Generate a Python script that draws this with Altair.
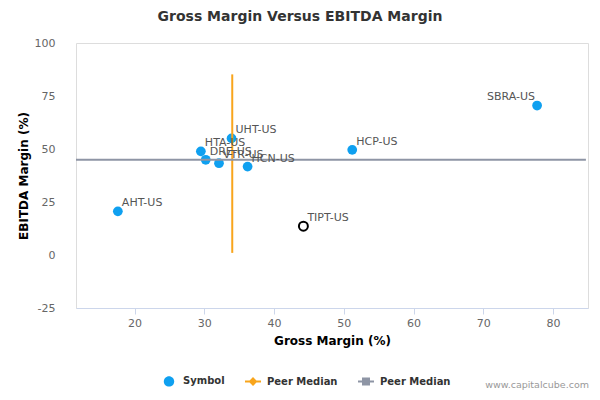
import altair as alt
import pandas as pd

# ---- data ----
symbols = ["AHT-US", "HTA-US", "DRE-US", "VTR-US", "UHT-US", "HCN-US", "HCP-US", "SBRA-US", "TIPT-US"]
gross_margin = [17.6, 29.5, 30.2, 32.1, 33.9, 36.2, 51.2, 77.7, 44.2]
ebitda_margin = [20.6, 48.9, 44.9, 43.3, 55.0, 41.7, 49.6, 70.5, 13.6]
subject = "TIPT-US"

peer_median_gross = 34.0
peer_median_ebitda = 44.9
vline_ebitda_range = [1.0, 85.2]
hline_gross_range = [11.6, 84.7]

x_ticks = [20, 30, 40, 50, 60, 70, 80]
y_ticks = [-25, 0, 25, 50, 75, 100]
x_domain = [11.6, 85.0]
y_domain = [-25, 100]

legend_items = ["Symbol", "Peer Median A", "Peer Median B"]
chart_title = "Gross Margin Versus EBITDA Margin"
watermark_text = "www.capitalcube.com"

FONT = "DejaVu Sans"
BLUE = "#0fa0f0"
ORANGE = "#f8a51c"
GRAY = "#8e95a5"

df = pd.DataFrame({"symbol": symbols, "gross": gross_margin, "ebitda": ebitda_margin})

xs = alt.Scale(domain=x_domain, nice=False, zero=False)
ys = alt.Scale(domain=y_domain, nice=False, zero=False)

x_axis = alt.Axis(values=x_ticks, grid=False, domainColor="#ccd6eb", tickColor="#ccd6eb",
                  tickSize=6, labelPadding=3, labelColor="#666666", labelFontSize=11,
                  labelFont=FONT, title="Gross Margin (%)", titleFont=FONT, titleFontSize=12,
                  titleFontWeight="bold", titleColor="#000000", titlePadding=7)
y_axis = alt.Axis(values=y_ticks, grid=False, domain=False, ticks=False, labelPadding=21,
                  labelExpr="'' + datum.value",
                  labelColor="#666666", labelFontSize=11, labelFont=FONT,
                  title="EBITDA Margin (%)", titleFont=FONT, titleFontSize=12,
                  titleFontWeight="bold", titleColor="#000000", titlePadding=4)

base = alt.Chart(df)

peers = base.transform_filter(f"datum.symbol != '{subject}'").mark_circle(
    size=95, color=BLUE, opacity=1
).encode(
    x=alt.X("gross:Q", scale=xs, axis=x_axis),
    y=alt.Y("ebitda:Q", scale=ys, axis=y_axis),
)

subj = base.transform_filter(f"datum.symbol == '{subject}'").mark_point(
    shape="circle", size=80, filled=False, stroke="#000000", strokeWidth=2, opacity=1
).encode(x="gross:Q", y="ebitda:Q")

labels_left = base.transform_filter("datum.symbol != 'SBRA-US'").mark_text(
    align="left", baseline="alphabetic", dx=4, dy=-5, font=FONT, fontSize=11, color="#555555"
).encode(x="gross:Q", y="ebitda:Q", text="symbol:N")

labels_right = base.transform_filter("datum.symbol == 'SBRA-US'").mark_text(
    align="right", baseline="alphabetic", dx=-2, dy=-6, font=FONT, fontSize=11, color="#555555"
).encode(x="gross:Q", y="ebitda:Q", text="symbol:N")

vline = alt.Chart(pd.DataFrame({"g": [peer_median_gross], "y1": [vline_ebitda_range[0]],
                                "y2": [vline_ebitda_range[1]]})).mark_rule(
    color=ORANGE, strokeWidth=2).encode(x="g:Q", y="y1:Q", y2="y2:Q")

hline = alt.Chart(pd.DataFrame({"e": [peer_median_ebitda], "x1": [hline_gross_range[0]],
                                "x2": [hline_gross_range[1]]})).mark_rule(
    color=GRAY, strokeWidth=2).encode(y="e:Q", x="x1:Q", x2="x2:Q")

circle_path = "M-0.65,0A0.65,0.65,0,1,1,0.65,0A0.65,0.65,0,1,1,-0.65,0Z"
diamond_line = "M-1,-0.125L1,-0.125L1,0.125L-1,0.125ZM0,-0.55L0.55,0L0,0.55L-0.55,0Z"
square_line = "M-1,-0.125L1,-0.125L1,0.125L-1,0.125ZM-0.5,-0.5L0.5,-0.5L0.5,0.5L-0.5,0.5Z"

legend_cfg = dict(title=None, orient="none", legendX=85, legendY=330,
                  direction="horizontal", symbolSize=256, symbolStrokeWidth=0,
                  labelExpr="substring(datum.label, 0, 11)",
                  labelFont=FONT, labelFontSize=10, labelFontWeight="bold",
                  labelColor="#333333", labelOffset=6, columnPadding=20, padding=0)

legend_layer = alt.Chart(pd.DataFrame({"series": legend_items, "gx": [0, 0, 0], "gy": [0, 0, 0]})).transform_filter(
    "false").mark_point(filled=True, opacity=1).encode(
    x="gx:Q", y="gy:Q",
    color=alt.Color("series:N", scale=alt.Scale(domain=legend_items, range=[BLUE, ORANGE, GRAY]),
                    legend=alt.Legend(**legend_cfg)),
    shape=alt.Shape("series:N", scale=alt.Scale(domain=legend_items,
                                                range=[circle_path, diamond_line, square_line]),
                    legend=alt.Legend(**legend_cfg)),
)

title_mark = alt.Chart(pd.DataFrame({"t": [chart_title]})).mark_text(
    align="center", baseline="alphabetic", font=FONT, fontSize=14, fontWeight="bold", color="#333333"
).encode(x=alt.value(224), y=alt.value(-22), text="t:N")

watermark = alt.Chart(pd.DataFrame({"t": [watermark_text]})).mark_text(
    align="right", baseline="alphabetic", font=FONT, fontSize=9.5, color="#999999"
).encode(x=alt.value(513), y=alt.value(345), text="t:N")

chart = alt.layer(peers, subj, vline, hline, labels_left, labels_right, legend_layer,
                  title_mark, watermark).properties(
    width=512, height=265,
    autosize=alt.AutoSizeParams(type="none"),
    padding={"left": 68, "top": 35, "right": 4, "bottom": 84},
).configure_view(stroke=None).configure(background="white")

chart.save("out.html", embed_options={"renderer": "svg", "actions": False})
